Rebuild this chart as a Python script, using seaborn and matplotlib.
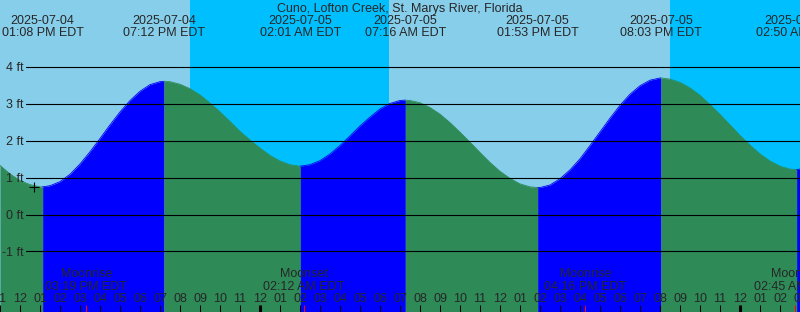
import numpy as np
import pandas as pd
import matplotlib
matplotlib.use("Agg")
import matplotlib.pyplot as plt
import matplotlib.transforms as mtransforms
import seaborn as sns

TITLE = "Cuno, Lofton Creek, St. Marys River, Florida"

# Half-hourly samples, hours relative to midnight 2025-07-05 EDT; level (ft)
sample_hours = [h / 2 for h in range(-26, 55)]
levels_ft = [1.33, 1.10, 0.92, 0.81, 0.75, 0.78, 0.89, 1.09, 1.37, 1.70,
             2.06, 2.43, 2.78, 3.09, 3.34, 3.52, 3.60, 3.60, 3.53, 3.41,
             3.24, 3.02, 2.78, 2.52, 2.25, 2.02, 1.80, 1.60, 1.45, 1.35,
             1.31, 1.35, 1.46, 1.64, 1.87, 2.13, 2.40, 2.64, 2.86, 3.01,
             3.09, 3.09, 3.03, 2.90, 2.72, 2.49, 2.23, 1.96, 1.68, 1.41,
             1.17, 0.98, 0.83, 0.75, 0.73, 0.80, 0.97, 1.21, 1.51, 1.87,
             2.24, 2.61, 2.96, 3.26, 3.49, 3.64, 3.70, 3.67, 3.58, 3.43,
             3.23, 2.98, 2.71, 2.43, 2.14, 1.88, 1.64, 1.45, 1.31, 1.23, 1.23]

tick_hours = list(range(-13, 28))
hour_labels = ["11", "12", "01", "02", "03", "04", "05", "06", "07", "08",
               "09", "10", "11", "12", "01", "02", "03", "04", "05", "06",
               "07", "08", "09", "10", "11", "12", "01", "02", "03", "04",
               "05", "06", "07", "08", "09", "10", "11", "12", "01", "02", "03"]
midnights = [0, 24]

# High / low tides
extreme_hours = [-10.867, -4.8, 2.017, 7.267, 13.883, 20.05, 26.833]
extreme_ft = [0.75, 3.61, 1.31, 3.10, 0.73, 3.70, 1.22]
extreme_dates = ["2025-07-04", "2025-07-04", "2025-07-05", "2025-07-05",
                 "2025-07-05", "2025-07-05", "2025-07-06"]
extreme_times = ["01:08 PM EDT", "07:12 PM EDT", "02:01 AM EDT", "07:16 AM EDT",
                 "01:53 PM EDT", "08:03 PM EDT", "02:50 AM EDT"]

# Moon events
moon_hours = [-8.683, 2.2, 16.267, 26.75]
moon_events = ["Moonrise", "Moonset", "Moonrise", "Moonset"]
moon_times = ["03:19 PM EDT", "02:12 AM EDT", "04:16 PM EDT", "02:45 AM EDT"]

# Night (sunset -> sunrise)
night_start = [-3.5, 20.5]
night_end = [6.45, 27.5]

# Current-time mark
now_hour = -11.285
now_ft = 0.74

grid_ft = [-1, 0, 1, 2, 3, 4]
grid_labels = ["-1 ft", "0 ft", "1 ft", "2 ft", "3 ft", "4 ft"]

DAY = "#87CEEB"
NIGHT = "#00BFFF"
RISE = "#0000FF"
FALL = "#2E8B57"

sns.set_style("white")
plt.rcParams["font.family"] = ["Liberation Sans", "DejaVu Sans"]
plt.rcParams["font.size"] = 9

W, H = 800, 312
X0, X1 = -13.0, 27.0
PX_PER_FT = 36.9
ZERO_ROW = 214.5
Y0 = (ZERO_ROW - H) / PX_PER_FT
Y1 = ZERO_ROW / PX_PER_FT

fig = plt.figure(figsize=(8, 3.12), dpi=100)
ax = fig.add_axes([0, 0, 1, 1])
ax.set_xlim(X0, X1)
ax.set_ylim(Y0, Y1)
ax.axis("off")

xt = ax.get_xaxis_transform()


def fy(py):
    return 1 - py / H


def px2h(px):
    return X0 + px / 20.0


# background day / night
ax.axvspan(X0, X1, color=DAY, lw=0, zorder=0)
for a, b in zip(night_start, night_end):
    ax.axvspan(a, b, color=NIGHT, lw=0, zorder=0)

# tide curve
df = pd.concat([
    pd.DataFrame({"hour": sample_hours, "level": levels_ft}),
    pd.DataFrame({"hour": extreme_hours, "level": extreme_ft}),
]).sort_values("hour").reset_index(drop=True)

edges = [X0] + extreme_hours + [X1]
for a, b in zip(edges[:-1], edges[1:]):
    seg = df[(df.hour >= a) & (df.hour <= b)]
    rising = seg.level.iloc[-1] > seg.level.iloc[0]
    c = RISE if rising else FALL
    ax.fill_between(seg.hour, seg.level, Y0, color=c, lw=0, zorder=1,
                    antialiased=False)
    sns.lineplot(data=seg, x="hour", y="level", color=c, lw=0.6, ax=ax,
                 estimator=None, sort=True, legend=False, zorder=1.5)

# horizontal grid lines and labels
lab_off = mtransforms.offset_copy(ax.transData, fig=fig, x=0, y=-4.3, units="dots")
for v, lab in zip(grid_ft, grid_labels):
    ax.plot([px2h(26), X1], [v, v], color="black", lw=0.8, zorder=3)
    ax.text(px2h(24), v, lab, ha="right", va="baseline", transform=lab_off,
            fontsize=9, zorder=4)

# now marker
sns.scatterplot(x=[now_hour], y=[now_ft], marker="+", s=45, color="black",
                linewidth=0.8, ax=ax, zorder=5, legend=False)

# title
fig.text(0.5, fy(11.7), TITLE, ha="center", va="baseline", fontsize=9)

# extreme labels
for h, d, t in zip(extreme_hours, extreme_dates, extreme_times):
    ax.text(h, fy(24.3), d, ha="center", va="baseline", transform=xt, fontsize=9, zorder=6)
    ax.text(h, fy(36.0), t, ha="center", va="baseline", transform=xt, fontsize=9, zorder=6)

# hour ticks and labels
for h, lab in zip(tick_hours, hour_labels):
    ax.text(h, fy(301.7), lab, ha="center", va="baseline", transform=xt, fontsize=9, zorder=6)
    lw = 2.2 if h in midnights else 0.75
    ax.plot([h, h], [0, 7 / H], color="black", lw=lw, transform=xt, zorder=6,
            solid_capstyle="butt")

# moon events
for h, ev, t in zip(moon_hours, moon_events, moon_times):
    ax.plot([h, h], [0, 7 / H], color="red", lw=0.75, transform=xt, zorder=7,
            solid_capstyle="butt")
    ax.text(h, fy(276.7), ev, ha="center", va="baseline", transform=xt, fontsize=9, zorder=6)
    ax.text(h, fy(290.0), t, ha="center", va="baseline", transform=xt, fontsize=9, zorder=6)

fig.savefig("out.png", dpi=100)
